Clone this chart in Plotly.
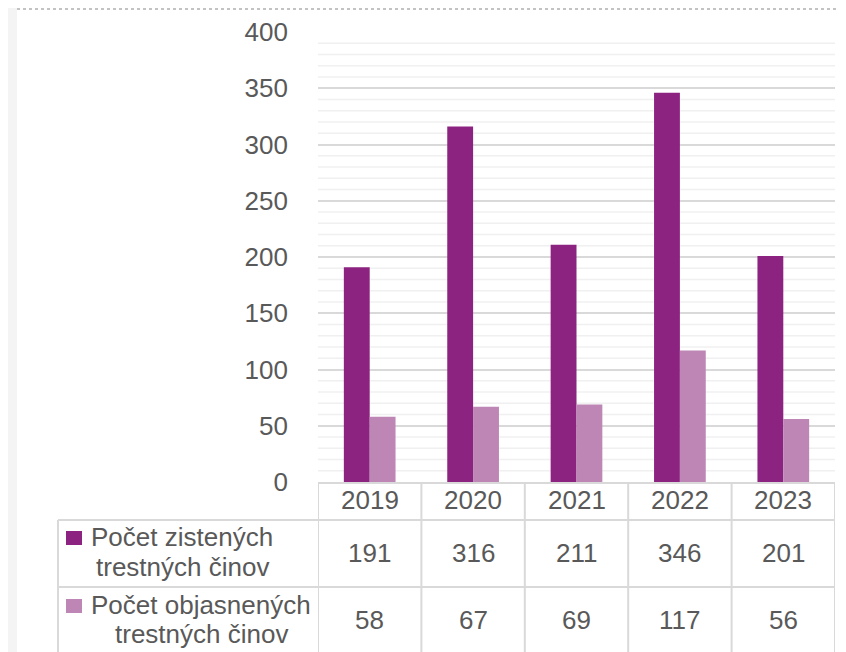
import plotly.graph_objects as go

years = ["2019", "2020", "2021", "2022", "2023"]
zistene = [191, 316, 211, 346, 201]
objasnene = [58, 67, 69, 117, 56]
series_lines = [["Počet zistených", "trestných činov"], ["Počet objasnených", "trestných činov"]]
series_names = [" ".join(s) for s in series_lines]
colors = ["#8c2380", "#bd86b4"]
yticks = [0, 50, 100, 150, 200, 250, 300, 350, 400]

# page offset (browser body margin)
OFF = 8
W, H = 846 - OFF, 652 - OFF
# plot area in page pixels: x 318..835, y 32..482
L, T = 318 - OFF, 32 - OFF
R = W - (835 - OFF)
B = H - (482 - OFF)
pw, ph = W - L - R, H - T - B

def px(x):  # page x -> paper
    return (x - OFF - L) / pw

def py(y):  # page y -> paper
    return (H - B - (y - OFF)) / ph

FONT = "Liberation Sans, Arial, sans-serif"
TXT = "#595959"
GRID = "#d9d9d9"
FS = 26

fig = go.Figure()
for name, vals, c in zip(series_names, [zistene, objasnene], colors):
    fig.add_trace(go.Bar(x=years, y=vals, name=name, marker=dict(color=c, line=dict(width=0)),
                         showlegend=False))

shapes = []
shapes.append(dict(type="rect", xref="paper", yref="paper", x0=px(0), x1=px(17), y0=py(700), y1=py(0),
                   fillcolor="#f4f4f4", line=dict(width=0), layer="below"))
shapes.append(dict(type="line", xref="paper", yref="paper", x0=px(17), x1=px(900), y0=py(9), y1=py(9),
                   line=dict(color="#b0b0b0", width=1.5, dash="dot")))
for v in range(10, 401, 10):
    if v % 50:
        shapes.append(dict(type="line", xref="paper", yref="y", x0=0, x1=1, y0=v, y1=v,
                           line=dict(color="#f0f0f0", width=1.5), layer="below"))
n = len(years)
row_y = [483, 520, 587]
for i, yy in enumerate(row_y):
    x0 = px(318) if i == 0 else px(58)
    shapes.append(dict(type="line", xref="paper", yref="paper", x0=x0, x1=1, y0=py(yy), y1=py(yy),
                       line=dict(color=GRID, width=2)))
for k in range(n + 1):
    xv = k - 0.5
    shapes.append(dict(type="line", xref="x", yref="paper", x0=xv, x1=xv, y0=py(483), y1=py(700),
                       line=dict(color=GRID, width=2)))
shapes.append(dict(type="line", xref="paper", yref="paper", x0=px(58), x1=px(58), y0=py(520), y1=py(700),
                   line=dict(color=GRID, width=2)))
for c, yc in zip(colors, [538, 606]):
    shapes.append(dict(type="rect", xref="paper", yref="paper", x0=px(66), x1=px(82), y0=py(yc + 7), y1=py(yc - 7),
                       fillcolor=c, line=dict(width=0)))

def txt(x, xref, y, s):
    return dict(x=x, xref=xref, y=y, yref="paper", text=s, showarrow=False, xanchor="center", yanchor="middle",
                font=dict(size=FS, color=TXT, family=FONT))

ann = []
for i, yr in enumerate(years):
    ann.append(txt(i, "x", py(500), yr))
    ann.append(txt(i, "x", py(553), str(zistene[i])))
    ann.append(txt(i, "x", py(620), str(objasnene[i])))
for lines, xc, ys in zip(series_lines, [182, 201], [(537, 567), (605, 634)]):
    for s, yy in zip(lines, ys):
        ann.append(txt(px(xc), "paper", py(yy), s))

fig.update_layout(
    width=W, height=H, margin=dict(l=L, r=R, t=T, b=B, pad=0, autoexpand=False),
    paper_bgcolor="white", plot_bgcolor="white",
    barmode="group", bargap=0.5, bargroupgap=0,
    font=dict(family=FONT, color=TXT, size=FS),
    xaxis=dict(type="category", range=[-0.5, 4.5], showticklabels=False, showgrid=False, zeroline=False,
               showline=False, ticks="", automargin=False),
    yaxis=dict(range=[0, 400], tickvals=yticks, showgrid=True, gridcolor=GRID, gridwidth=2,
               zeroline=False, showline=False, ticks="", ticklabelstandoff=29, automargin=False,
               tickfont=dict(size=FS, color=TXT, family=FONT)),
    shapes=shapes, annotations=ann,
)
fig.write_html("out.html")
